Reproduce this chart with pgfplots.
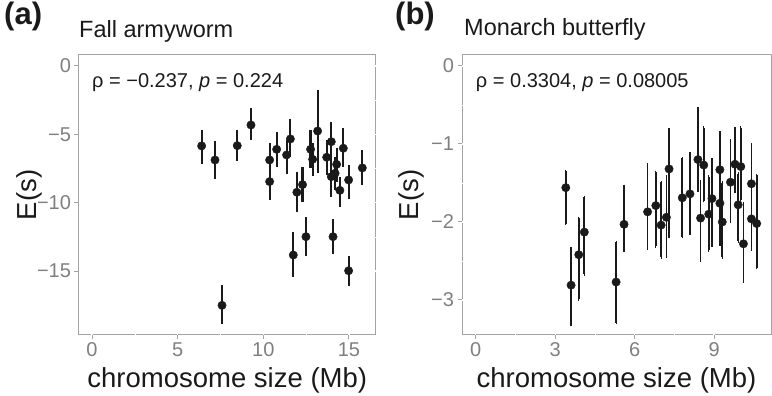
\documentclass[border=0pt]{standalone}
\usepackage{pgfplots}
\pgfplotsset{compat=1.18}
\usepackage{pgfplotstable}
\usepackage{fontspec}
\setmainfont{Liberation Sans}

\definecolor{ptcol}{HTML}{1A1A1A}
\definecolor{bordergrey}{HTML}{A3A3A3}
\definecolor{ticktext}{HTML}{7F7F7F}

% Fall armyworm: chromosome size (Mb), E(s), upper and lower error
\pgfplotstableread{
x      y       ep    em
6.40   -5.85   1.17  1.35
7.18   -6.88   1.39  1.41
7.59  -17.51   1.46  1.39
8.48   -5.83   1.15  1.12
9.28   -4.32   1.22  1.09
10.37  -6.88   1.22  1.22
10.37  -8.46   1.22  1.34
10.78  -6.10   1.30  1.27
11.36  -6.51   1.10  1.42
11.58  -5.34   1.46  1.29
11.75 -13.83   1.71  1.63
11.96  -9.24   1.46  1.47
12.29  -8.68   1.31  1.30
12.49 -12.49   1.42  1.41
12.76  -6.10   1.42  1.39
12.88  -6.83   1.20  1.20
13.17  -4.76   3.00  3.09
13.70  -6.68   1.27  1.30
13.97  -5.54   1.42  1.46
13.97  -8.10   1.22  1.46
14.07 -12.49   1.27  1.27
14.19  -7.85   1.20  1.20
14.28  -7.20   1.18  1.26
14.47  -9.10   1.00  1.24
14.67  -6.02   1.46  1.35
14.98  -8.34   1.10  1.42
14.98 -14.98   1.10  1.12
15.78  -7.46   1.31  1.25
}\armyworm

% Monarch butterfly: chromosome size (Mb), E(s), upper and lower error
\pgfplotstableread{
x      y      ep    em
3.40  -1.56   0.21  0.46
3.60  -2.81   0.47  0.50
3.89  -2.42   0.47  0.57
4.10  -2.13   0.45  0.54
5.30  -2.77   0.51  0.52
5.60  -2.03   0.49  0.33
6.49  -1.87   0.61  0.47
6.80  -1.79   0.43  0.52
7.00  -2.04   0.55  0.41
7.20  -1.94   0.52  0.50
7.30  -1.32   0.51  0.87
7.80  -1.69   0.51  0.50
8.09  -1.64   0.52  0.51
8.39  -1.20   0.65  0.40
8.49  -1.95   0.47  0.54
8.61  -1.27   0.48  0.46
8.80  -1.90   0.48  0.46
8.92  -1.70   0.50  0.60
9.22  -1.33   0.48  0.47
9.22  -1.76   0.43  0.53
9.31  -2.00   0.50  0.45
9.62  -1.49   0.53  0.51
9.79  -1.26   0.46  0.35
9.91  -1.78   0.40  0.47
10.01 -1.29   0.50  0.43
10.11 -2.28   0.52  0.48
10.41 -1.51   0.50  0.49
10.41 -1.96   0.46  0.39
10.61 -2.02   0.62  0.57
}\monarch

\pgfplotsset{
  ggpanel/.style={
    scale only axis,
    height=280pt,
    clip=false,
    axis background/.style={draw=bordergrey, line width=1pt},
    axis line style={draw=none},
    grid=both,
    major grid style={white, line width=1.2pt},
    minor grid style={white, line width=0.6pt},
    minor x tick num=1, minor y tick num=1,
    minor tick length=0pt,
    tick align=outside,
    major tick length=4.5pt,
    tick style={bordergrey, line width=1pt},
    xtick pos=bottom, ytick pos=left,
    ticklabel style={font=\fontsize{20}{20}\selectfont, text=ticktext},
    label style={font=\fontsize{27.5}{27.5}\selectfont, text=ptcol},
    xlabel style={at={(rel axis cs:0.5,0)}, anchor=base, yshift=-53pt},
    xlabel={chromosome size (Mb)},
    ylabel={E(s)},
  },
  ggpoints/.style={
    only marks, mark=*, mark size=4.2pt,
    mark options={fill=ptcol, draw=ptcol},
    error bars/y dir=both, error bars/y explicit,
  },
}

\begin{document}
\begin{tikzpicture}
\useasboundingbox (0,0) rectangle (772pt,396pt);

% (a) Fall armyworm
\begin{axis}[ggpanel, name=left,
  at={(79pt,61pt)}, anchor=south west,
  width=296.5pt,
  xmin=-0.76, xmax=16.55, ymin=-19.68, ymax=0.80,
  xtick={0,5,10,15}, xticklabels={0,5,10,15},
  ytick={0,-5,-10,-15}, yticklabels={0,−5,−10,−15},
  ylabel style={at={(rel axis cs:-0.145,0.5)}, anchor=base},
]
\addplot[ggpoints, error bars/error bar style={line width=2.2pt, ptcol},
  error bars/error mark=none]
  table[x=x, y=y, y error plus=ep, y error minus=em] {\armyworm};
\node[anchor=base west, inner sep=0pt, font=\fontsize{20}{20}\selectfont, text=ptcol]
  at (axis cs:0,-1.56) {ρ = −0.237, \textit{p} = 0.224};
\end{axis}

% (b) Monarch butterfly
\begin{axis}[ggpanel, name=right,
  at={(462pt,61pt)}, anchor=south west,
  width=309pt,
  xmin=-0.52, xmax=11.15, ymin=-3.449, ymax=0.141,
  xtick={0,3,6,9}, xticklabels={0,3,6,9},
  ytick={0,-1,-2,-3}, yticklabels={0,−1,−2,−3},
  ylabel style={at={(rel axis cs:-0.1424,0.5)}, anchor=base},
]
\addplot[ggpoints, error bars/error bar style={line width=1.7pt, ptcol},
  error bars/error mark=-,
  error bars/error mark options={line width=1.2pt, ptcol, mark size=1.5pt}]
  table[x=x, y=y, y error plus=ep, y error minus=em] {\monarch};
\node[anchor=base west, inner sep=0pt, font=\fontsize{20}{20}\selectfont, text=ptcol]
  at (axis cs:0,-0.273) {ρ = 0.3304, \textit{p} = 0.08005};
\end{axis}

% panel titles and tags
\node[anchor=base west, inner sep=0pt, font=\fontsize{23.5}{23.5}\selectfont, text=ptcol]
  at ([yshift=17pt]left.north west) {Fall armyworm};
\node[anchor=base west, inner sep=0pt, font=\fontsize{23.5}{23.5}\selectfont, text=ptcol]
  at ([xshift=2pt,yshift=19pt]right.north west) {Monarch butterfly};
\node[anchor=base west, inner sep=0pt, font=\bfseries\fontsize{31}{31}\selectfont, text=ptcol]
  at (4pt,371pt) {(a)};
\node[anchor=base west, inner sep=0pt, font=\bfseries\fontsize{31}{31}\selectfont, text=ptcol]
  at (395pt,371pt) {(b)};
\end{tikzpicture}
\end{document}
